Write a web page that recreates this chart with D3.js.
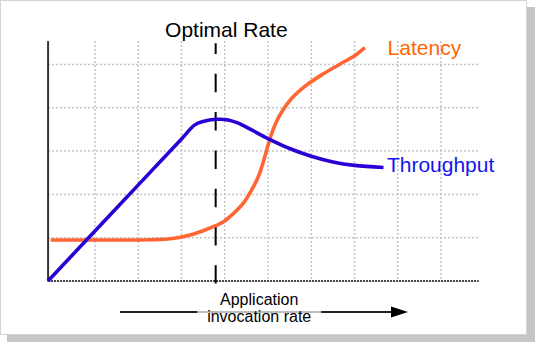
<!DOCTYPE html>
<html>
<head>
<meta charset="utf-8">
<script src="https://cdn.jsdelivr.net/npm/d3@7"></script>
<style>
  html, body { margin: 0; padding: 0; background: #fff; }
  svg { display: block; font-family: "Liberation Sans", Arial, sans-serif; }
</style>
</head>
<body>
<svg id="chart" width="535" height="343"></svg>
<script>
// ---- data (x in rate grid units, y in value grid units) ----
const throughputX = [-0.087, 1.5, 3.0, 3.3, 3.5, 3.8, 4.08, 4.3, 4.6, 5.0, 5.5, 6.0, 6.5, 7.0, 7.67];
const throughputY = [0, 1.687, 3.28, 3.60, 3.685, 3.735, 3.72, 3.65, 3.50, 3.29, 3.06, 2.88, 2.75, 2.67, 2.62];
const latencyX = [-0.024, 1.2, 2.3, 2.8, 3.2, 3.6, 3.97, 4.2, 4.43, 4.62, 4.78, 4.92, 5.05, 5.18, 5.32, 5.55, 5.86, 6.24, 6.63, 7.01, 7.24];
const latencyY = [0.947, 0.947, 0.953, 0.98, 1.06, 1.2, 1.37, 1.56, 1.80, 2.10, 2.42, 2.85, 3.30, 3.65, 3.91, 4.22, 4.50, 4.76, 4.99, 5.21, 5.39];
const xGridTicks = [1, 2, 3, 4, 5, 6, 7, 8, 9];
const yGridTicks = [1, 2, 3, 4, 5];
const optimalRate = 3.79;
const seriesNames = ["Throughput", "Latency"];
const titleText = "Optimal Rate";
const axisLabelLines = ["Application", "invocation rate"];
const xMin = -0.085, xMax = 9.87, yMin = 0, yMax = 5.54;

// ---- scales ----
const x = d3.scaleLinear().domain([0, 10]).range([51.75, 484.25]);
const y = d3.scaleLinear().domain([0, 5]).range([281, 64.5]);

const svg = d3.select("#chart");

// frame with shadow
svg.append("rect").attr("x", 7).attr("y", 7).attr("width", 528).attr("height", 335).attr("fill", "#c6c6c6");
svg.append("rect").attr("x", 0.5).attr("y", 0.5).attr("width", 526).attr("height", 334)
  .attr("fill", "#fff").attr("stroke", "#d4d4d4").attr("stroke-width", 1);

// grid
const grid = svg.append("g").attr("stroke", "#c4c4c4").attr("stroke-width", 1.5).attr("stroke-dasharray", "2 2");
grid.selectAll("line.v").data(xGridTicks).join("line").attr("class", "v")
  .attr("x1", d => x(d)).attr("x2", d => x(d)).attr("y1", y(yMax)).attr("y2", y(yMin));
grid.selectAll("line.h").data(yGridTicks).join("line").attr("class", "h")
  .attr("x1", x(xMin)).attr("x2", x(xMax)).attr("y1", d => y(d)).attr("y2", d => y(d));

// axes
svg.append("line").attr("x1", x(xMin)).attr("x2", x(xMax)).attr("y1", y(0)).attr("y2", y(0))
  .attr("stroke", "#444").attr("stroke-width", 2).attr("stroke-dasharray", "2 1");
svg.append("line").attr("x1", x(xMin)).attr("x2", x(xMin)).attr("y1", y(yMax)).attr("y2", y(0) + 0.5)
  .attr("stroke", "#333").attr("stroke-width", 2);

// optimal rate dashed line
svg.append("line").attr("x1", x(optimalRate)).attr("x2", x(optimalRate))
  .attr("y1", 43.3).attr("y2", 283.5)
  .attr("stroke", "#000").attr("stroke-width", 2)
  .attr("stroke-dasharray", "18.5 19.8").attr("stroke-dashoffset", 7.8);

// title
svg.append("text").attr("x", x(optimalRate) + 10.7).attr("y", 37)
  .attr("text-anchor", "middle").attr("font-size", 21).attr("fill", "#000").text(titleText);

// series
const line = d3.line().x(d => x(d[0])).y(d => y(d[1])).curve(d3.curveCatmullRom.alpha(0.5));
const tData = throughputX.map((v, i) => [v, throughputY[i]]);
const lData = latencyX.map((v, i) => [v, latencyY[i]]);

svg.append("path").datum(lData).attr("d", line).attr("fill", "none")
  .attr("stroke", "#ff6633").attr("stroke-width", 3.6).attr("stroke-linecap", "butt");
svg.append("path").datum(tData).attr("d", line).attr("fill", "none")
  .attr("stroke", "#2a00d4").attr("stroke-width", 3.6).attr("stroke-linecap", "butt");

// series labels
const lEnd = lData[lData.length - 1], tEnd = tData[tData.length - 1];
svg.append("text").attr("x", x(lEnd[0]) + 22.7).attr("y", y(lEnd[1]) + 7.3)
  .attr("font-size", 21).attr("fill", "#ff6600").text(seriesNames[1]);
svg.append("text").attr("x", x(tEnd[0]) + 3.4).attr("y", y(tEnd[1]) + 4.2)
  .attr("font-size", 21).attr("fill", "#1414ee").text(seriesNames[0]);

// axis label with arrow
const arrowY = 312;
svg.append("line").attr("x1", 120).attr("x2", 393).attr("y1", arrowY).attr("y2", arrowY)
  .attr("stroke", "#222").attr("stroke-width", 2);
svg.append("path").attr("d", `M391,${arrowY - 5.5}L408,${arrowY}L391,${arrowY + 5.5}Z`).attr("fill", "#000");
const labelX = 259.2;
svg.append("rect").attr("x", labelX - 62).attr("y", 290).attr("width", 124).attr("height", 36)
  .attr("fill", "#fff").attr("opacity", 0.7);
const lbl = svg.append("text").attr("text-anchor", "middle").attr("font-size", 16).attr("fill", "#000");
lbl.append("tspan").attr("x", labelX).attr("y", 305.3).text(axisLabelLines[0]);
lbl.append("tspan").attr("x", labelX).attr("y", 322).text(axisLabelLines[1]);
</script>
</body>
</html>
